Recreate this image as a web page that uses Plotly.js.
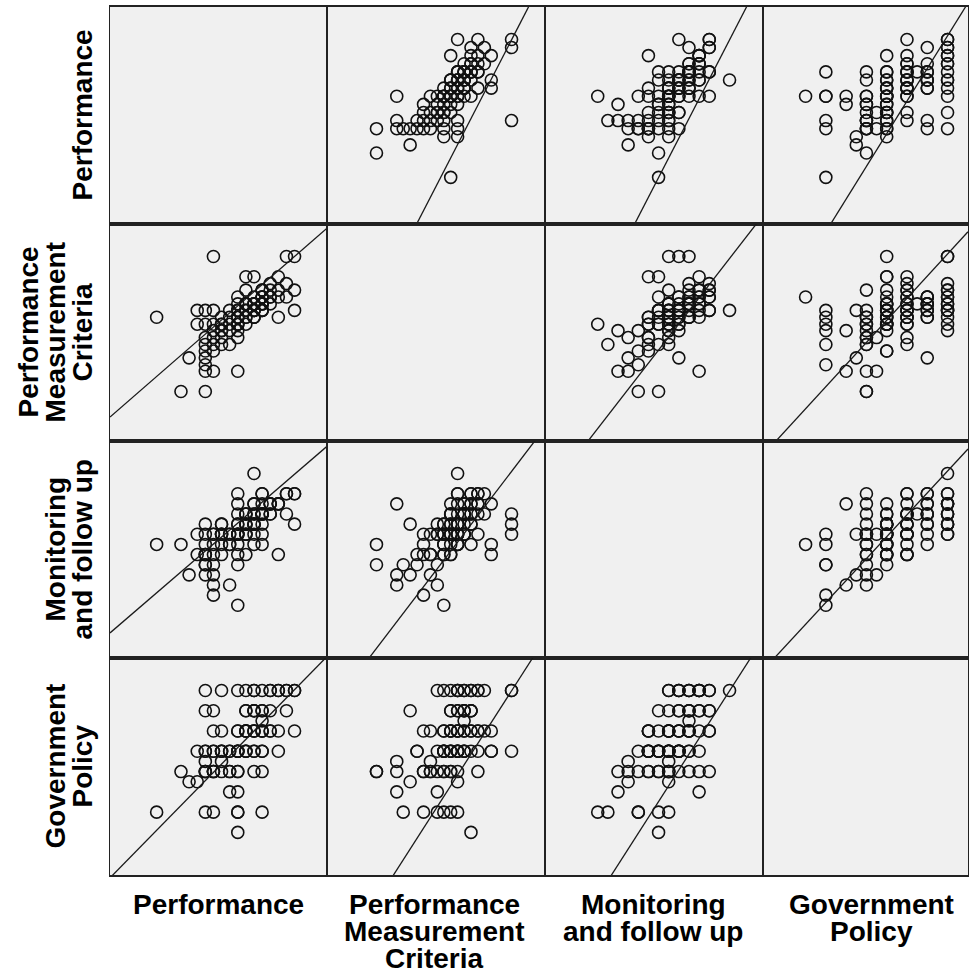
<!DOCTYPE html>
<html>
<head>
<meta charset="utf-8">
<script src="https://cdn.plot.ly/plotly-3.0.1.min.js"></script>
<style>html,body{margin:0;padding:0;background:#fff;}#chart{width:969px;height:974px;}</style>
</head>
<body>
<div id="chart"></div>
<script>
// ---- Data (one row per respondent, read from the scatterplot matrix) ----
const variableNames = ["Performance", "Performance Measurement Criteria", "Monitoring and follow up", "Government Policy"];
const rowLabelLines = [["Performance"], ["Performance", "Measurement", "Criteria"], ["Monitoring", "and follow up"], ["Government", "Policy"]];
const colLabelLines = rowLabelLines;

const performance = [
  3.6,
  1.6, 3.6, 3.0, 2.8, 4.2, 3.6,
  3.6, 3.4,
  2.4, 2.6,
  2.2, 2.8, 4.2, 4.0, 3.6, 3.2, 3.0, 2.8, 3.0, 3.0, 3.4, 3.6, 2.8,
  2.8, 3.2,
  3.0, 3.8, 4.2, 4.0, 3.8, 3.8, 3.6, 3.6, 3.4, 3.4, 3.2, 3.2, 3.0, 2.8, 2.6, 4.6, 4.2, 2.8,
  5.0, 4.6, 4.4, 4.4, 4.2, 4.2, 4.0, 4.0, 3.8, 3.8, 3.6, 3.6, 3.2, 3.0, 4.0,
  4.2,
  4.8, 4.4, 4.2, 4.2, 4.0, 3.8, 3.8, 3.0, 2.8, 4.0,
  5.0, 4.8, 4.0, 5.0, 4.8, 4.6, 4.4, 4.2, 4.0, 3.8, 3.6, 3.2, 2.8, 4.6,
  3.8, 3.6, 4.0, 3.4, 4.2, 3.6, 4.4, 3.2, 3.8, 4.0
];
const measurementCriteria = [
  4.0,
  3.5, 3.33, 2.83, 2.33, 3.67, 3.17,
  2.17, 3.17,
  2.5, 3.67,
  1.67, 1.67, 4.17, 3.67, 3.5, 3.33, 3.17, 2.83, 3.0, 2.17, 2.83, 3.33, 3.0,
  2.17, 3.0,
  5.0, 4.5, 4.17, 4.0, 3.83, 3.67, 3.83, 3.5, 3.67, 3.33, 3.5, 3.17, 2.67, 3.33, 3.33, 4.5, 3.67, 2.67,
  4.17, 3.5, 4.33, 3.83, 4.0, 3.67, 3.83, 3.5, 3.33, 4.17, 3.0, 3.67, 2.83, 3.33, 4.5,
  3.83,
  4.0, 4.0, 3.83, 4.0, 3.67, 3.5, 3.83, 3.67, 2.5, 3.5,
  5.0, 5.0, 3.67, 3.67, 4.33, 4.17, 4.0, 3.83, 3.5, 3.83, 3.33, 3.17, 3.67, 4.0,
  3.67, 3.5, 3.83, 3.5, 4.0, 3.67, 4.17, 3.33, 3.5, 3.83
];
const monitoring = [
  3.25,
  3.25, 1.75, 2.0, 2.75, 3.5, 2.75,
  4.25, 2.25,
  2.5, 3.5,
  3.25, 2.75, 4.5, 4.25, 4.0, 3.75, 3.5, 3.0, 2.5, 2.25, 3.25, 3.5, 3.0,
  2.5, 3.5,
  3.5, 3.0, 4.0, 3.75, 4.0, 3.75, 3.5, 3.75, 3.25, 3.5, 3.0, 3.5, 2.75, 3.25, 3.0, 4.25, 3.25, 3.0,
  4.5, 3.0, 4.0, 4.25, 3.75, 4.0, 3.5, 4.0, 3.75, 3.5, 3.0, 4.5, 3.5, 3.0, 3.25,
  4.0,
  4.5, 4.25, 4.0, 4.5, 3.75, 4.0, 3.5, 3.25, 3.75, 4.25,
  3.75, 4.0, 5.0, 4.5, 4.5, 4.25, 4.0, 4.25, 3.75, 4.0, 3.5, 3.75, 3.5, 4.25,
  3.75, 3.5, 4.0, 3.5, 4.0, 3.75, 4.25, 3.25, 3.5, 3.75
];
const governmentPolicy = [
  1.5,
  2.0, 2.0, 2.0, 2.0, 2.0, 2.0,
  2.5, 2.5,
  2.75, 2.75,
  3.0, 3.0, 3.0, 3.0, 3.0, 3.0, 3.0, 3.0, 3.0, 3.0, 3.0, 3.0, 3.0,
  3.25, 3.25,
  3.5, 3.5, 3.5, 3.5, 3.5, 3.5, 3.5, 3.5, 3.5, 3.5, 3.5, 3.5, 3.5, 3.5, 3.5, 3.5, 3.5, 3.5,
  4.0, 4.0, 4.0, 4.0, 4.0, 4.0, 4.0, 4.0, 4.0, 4.0, 4.0, 4.0, 4.0, 4.0, 4.0,
  4.25,
  4.5, 4.5, 4.5, 4.5, 4.5, 4.5, 4.5, 4.5, 4.5, 4.5,
  5.0, 5.0, 5.0, 5.0, 5.0, 5.0, 5.0, 5.0, 5.0, 5.0, 5.0, 5.0, 5.0, 5.0,
  4.0, 3.5, 4.5, 3.0, 4.0, 3.5, 5.0, 3.5, 4.0, 3.5
];

// Fit lines shown in each panel (row variable = a + b * column variable)
const fitRow = [0, 0, 0, 1, 1, 1, 2, 2, 2, 3, 3, 3];
const fitCol = [1, 2, 3, 0, 2, 3, 0, 1, 3, 0, 1, 2];
const fitA   = [-4.71, -4.71, -2.96, 0.65, -1.50, -0.39, 0.68, -1.50, -0.34, -0.08, -2.81, -2.81];
const fitB   = [1.94, 1.94, 1.61, 0.87, 1.29, 1.09, 0.86, 1.31, 1.08, 1.02, 1.56, 1.56];

// ---- Layout geometry ----
const W = 969, H = 974;
const colEdges = [110, 327, 545, 763, 968];
const rowEdges = [7, 224, 441, 658, 875];
const axisLo = 0.45, axisHi = 5.8;
const fullPanel = 217;

const vars = [performance, measurementCriteria, monitoring, governmentPolicy];
const traces = [];
const layout = {
  width: W, height: H,
  margin: {l: 0, r: 0, t: 0, b: 0},
  paper_bgcolor: "#ffffff",
  plot_bgcolor: "#f0f0f0",
  showlegend: false,
  annotations: []
};

function xRange(j) {
  const w = colEdges[j + 1] - colEdges[j];
  return [axisLo, axisLo + (axisHi - axisLo) * w / fullPanel];
}

for (let i = 0; i < 4; i++) {
  for (let j = 0; j < 4; j++) {
    const k = i * 4 + j + 1;
    const xa = "xaxis" + k, ya = "yaxis" + k;
    const xr = xRange(j);
    layout[xa] = {
      domain: [colEdges[j] / W, colEdges[j + 1] / W],
      range: xr, anchor: "y" + k,
      showgrid: false, zeroline: false, showticklabels: false, ticks: "",
      showline: true, mirror: true, linecolor: "#222", linewidth: 2, fixedrange: true
    };
    layout[ya] = {
      domain: [1 - rowEdges[i + 1] / H, 1 - rowEdges[i] / H],
      range: [axisLo, axisHi], anchor: "x" + k,
      showgrid: false, zeroline: false, showticklabels: false, ticks: "",
      showline: true, mirror: true, linecolor: "#222", linewidth: 1, fixedrange: true
    };
    if (i === j) {
      traces.push({type: "scatter", x: [], y: [], xaxis: "x" + k, yaxis: "y" + k, hoverinfo: "skip"});
      continue;
    }
    traces.push({
      type: "scatter", mode: "markers",
      x: vars[j], y: vars[i],
      xaxis: "x" + k, yaxis: "y" + k,
      marker: {symbol: "circle-open", size: 12, color: "#111", line: {width: 1.6, color: "#111"}},
      cliponaxis: true, hoverinfo: "skip"
    });
  }
}

for (let n = 0; n < fitRow.length; n++) {
  const i = fitRow[n], j = fitCol[n];
  const k = i * 4 + j + 1;
  const xr = xRange(j);
  traces.push({
    type: "scatter", mode: "lines",
    x: [xr[0], xr[1]],
    y: [fitA[n] + fitB[n] * xr[0], fitA[n] + fitB[n] * xr[1]],
    xaxis: "x" + k, yaxis: "y" + k,
    line: {color: "#1a1a1a", width: 1.3}, hoverinfo: "skip"
  });
}

const labelFont = {family: "Liberation Sans, Arial, sans-serif", size: 28, color: "#000"};
const linePitch = 27;
// Row labels (rotated), last line nearest the panels
const rowLabelLastX = 82;
for (let i = 0; i < 4; i++) {
  const lines = rowLabelLines[i];
  const yc = (rowEdges[i] + rowEdges[i + 1]) / 2;
  for (let m = 0; m < lines.length; m++) {
    const x = rowLabelLastX - (lines.length - 1 - m) * linePitch;
    layout.annotations.push({
      xref: "paper", yref: "paper", x: x / W, y: 1 - yc / H,
      xanchor: "center", yanchor: "middle", textangle: -90, showarrow: false,
      text: "<b>" + lines[m] + "</b>", font: labelFont
    });
  }
}
// Column labels (horizontal), first line nearest the panels
const colLabelFirstY = 904;
const colCenters = [218.5, 434, 653, 871.5];
for (let j = 0; j < 4; j++) {
  const lines = colLabelLines[j];
  for (let m = 0; m < lines.length; m++) {
    const y = colLabelFirstY + m * linePitch;
    layout.annotations.push({
      xref: "paper", yref: "paper", x: colCenters[j] / W, y: 1 - y / H,
      xanchor: "center", yanchor: "middle", showarrow: false,
      text: "<b>" + lines[m] + "</b>", font: labelFont
    });
  }
}

Plotly.newPlot("chart", traces, layout, {staticPlot: true, displayModeBar: false});
</script>
</body>
</html>
